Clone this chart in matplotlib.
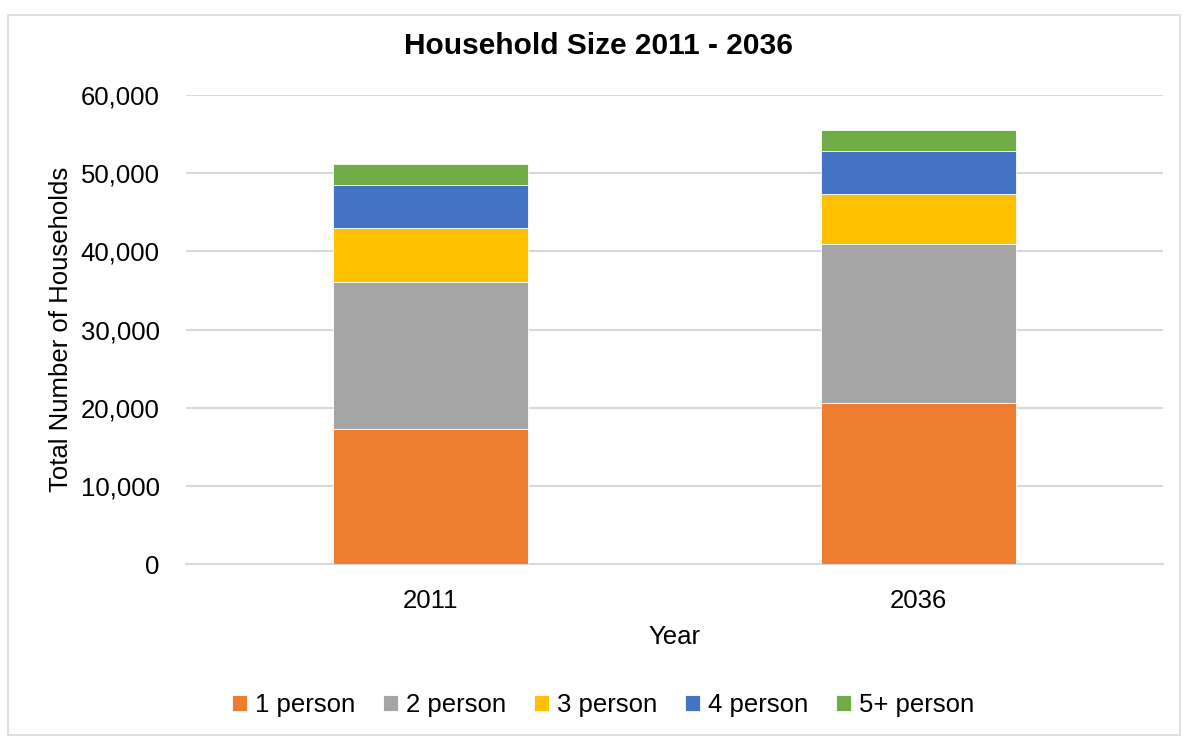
import matplotlib.pyplot as plt
from matplotlib.patches import Rectangle
from matplotlib.ticker import FuncFormatter

plt.rcParams['font.family'] = ['Liberation Sans', 'DejaVu Sans']

# data
years = ['2011', '2036']
sizes = ['1 person', '2 person', '3 person', '4 person', '5+ person']
one_person = [17320, 20640]
two_person = [18720, 20250]
three_person = [6890, 6470]
four_person = [5540, 5530]
five_plus = [2760, 2600]
colors = ['#ED7D31', '#A5A5A5', '#FFC000', '#4472C4', '#70AD47']

W, H = 1189, 738
fig = plt.figure(figsize=(W / 100, H / 100), dpi=100)
ax = fig.add_axes([186 / W, 1 - 564 / H, (1163 - 186) / W, (564 - 95) / H])

# chart border
fig.patches.append(Rectangle((8 / W, 3 / H), 1172 / W, 1 - 18 / H, transform=fig.transFigure,
                             fill=False, edgecolor='#d9d9d9', linewidth=1.2))

x = range(len(years))
bottom = [0, 0]
for vals, lab, col in zip([one_person, two_person, three_person, four_person, five_plus], sizes, colors):
    ax.bar(x, vals, width=0.4, bottom=bottom, color=col, label=lab, edgecolor='white', linewidth=0.6, zorder=3)
    bottom = [b + v for b, v in zip(bottom, vals)]

ax.set_xlim(-0.5, 1.5)
ax.set_ylim(0, 60000)
ax.set_yticks(range(0, 60001, 10000))
ax.yaxis.set_major_formatter(FuncFormatter(lambda v, p: f'{int(v):,}'))
ax.set_xticks(list(x))
ax.set_xticklabels(years)
ax.grid(axis='y', color='#d9d9d9', linewidth=1.5, zorder=0)
for s in ['top', 'right', 'left']:
    ax.spines[s].set_visible(False)
ax.spines['bottom'].set_color('#d9d9d9')
ax.spines['bottom'].set_linewidth(1.5)
ax.tick_params(axis='both', length=0, labelsize=18.5, colors='black')
ax.tick_params(axis='y', pad=19)
ax.tick_params(axis='x', pad=18)

ax.set_ylabel('Total Number of Households', fontsize=18.5)
ax.set_xlabel('Year', fontsize=18.5)
ax.yaxis.set_label_coords((73 - 186) / 977, 0.5)
ax.xaxis.set_label_coords(0.5, (564 - 625) / 469)

fig.text(599 / W, 1 - 46 / H, 'Household Size 2011 - 2036', ha='center', va='center',
         fontsize=21.5, fontweight='bold')

fig.legend(loc='center', bbox_to_anchor=(603 / W, 1 - 705 / H), ncol=5, frameon=False,
           fontsize=18.5, handlelength=0.6, handleheight=0.6, handletextpad=0.3, columnspacing=1.08)

fig.savefig('out.png', dpi=100)
